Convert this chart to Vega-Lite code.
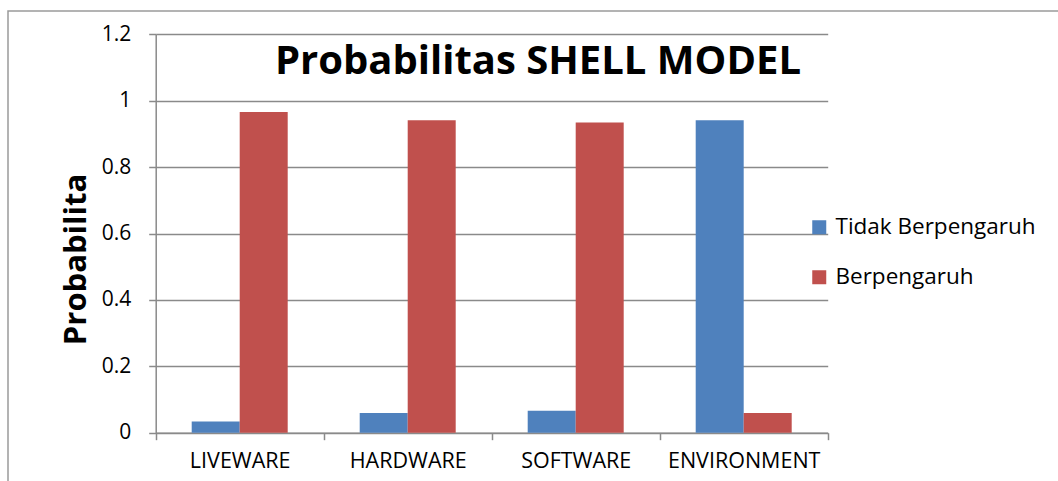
{
  "$schema": "https://vega.github.io/schema/vega-lite/v6.json",
  "autosize": {"type": "none"},
  "padding": {"left": 8, "top": 11, "right": 0, "bottom": 0},
  "width": 1050,
  "height": 470,
  "background": "white",
  "title": {
    "text": "Probabilitas SHELL MODEL",
    "orient": "top",
    "anchor": "middle",
    "baseline": "alphabetic",
    "offset": -64,
    "dx": 5,
    "dy": 39,
    "font": "Open Sans",
    "fontSize": 40,
    "fontWeight": "bold",
    "color": "black"
  },
  "config": {
    "view": {"stroke": "#9a9a9a", "strokeWidth": 1.5, "strokeDash": [1050, 1520, 470]},
    "font": "Open Sans"
  },
  "data": {
    "values": [
      {"kategori": "LIVEWARE", "status": "Tidak Berpengaruh", "p": 0.034},
      {"kategori": "LIVEWARE", "status": "Berpengaruh", "p": 0.966},
      {"kategori": "HARDWARE", "status": "Tidak Berpengaruh", "p": 0.059},
      {"kategori": "HARDWARE", "status": "Berpengaruh", "p": 0.941},
      {"kategori": "SOFTWARE", "status": "Tidak Berpengaruh", "p": 0.066},
      {"kategori": "SOFTWARE", "status": "Berpengaruh", "p": 0.934},
      {"kategori": "ENVIRONMENT", "status": "Tidak Berpengaruh", "p": 0.941},
      {"kategori": "ENVIRONMENT", "status": "Berpengaruh", "p": 0.059}
    ]
  },
  "mark": {"type": "bar"},
  "encoding": {
    "x": {
      "field": "kategori",
      "type": "nominal",
      "sort": ["LIVEWARE", "HARDWARE", "SOFTWARE", "ENVIRONMENT"],
      "scale": {"range": [147.7, 819.7], "paddingInner": 0, "paddingOuter": 0},
      "axis": {
        "title": null,
        "orient": "bottom",
        "offset": -48.3,
        "labelAngle": 0,
        "labelFont": "Open Sans",
        "labelFontSize": 21.5,
        "labelColor": "black",
        "labelPadding": 11,
        "tickBand": "extent",
        "tickSize": 7,
        "tickColor": "#8a8a8a",
        "tickWidth": 1.5,
        "domainColor": "#8a8a8a",
        "domainWidth": 1.5,
        "grid": false
      }
    },
    "xOffset": {
      "field": "status",
      "type": "nominal",
      "sort": ["Tidak Berpengaruh", "Berpengaruh"],
      "scale": {"paddingInner": 0, "paddingOuter": 0.75}
    },
    "y": {
      "field": "p",
      "type": "quantitative",
      "scale": {"domain": [0, 1.2], "range": [421.7, 23.3], "nice": false},
      "axis": {
        "title": "Probabilita",
        "titleFont": "Open Sans",
        "titleFontSize": 31,
        "titleFontWeight": "bold",
        "titleColor": "black",
        "titleAngle": -90,
        "titleAlign": "center",
        "titleBaseline": "alphabetic",
        "titleX": -70.5,
        "titleY": 248,
        "offset": -147.7,
        "values": [0, 0.2, 0.4, 0.6, 0.8, 1, 1.2],
        "format": "~g",
        "labelFont": "Open Sans",
        "labelFontSize": 21,
        "labelColor": "black",
        "labelPadding": 18,
        "tickSize": 7,
        "tickColor": "#8a8a8a",
        "tickWidth": 1.5,
        "domainColor": "#8a8a8a",
        "domainWidth": 1.5,
        "grid": true,
        "gridColor": "#8a8a8a",
        "gridWidth": 1.5
      }
    },
    "color": {
      "field": "status",
      "type": "nominal",
      "sort": ["Tidak Berpengaruh", "Berpengaruh"],
      "scale": {"domain": ["Tidak Berpengaruh", "Berpengaruh"], "range": ["#4F81BD", "#C0504D"]},
      "legend": {
        "title": null,
        "orient": "none",
        "legendX": 800,
        "legendY": 205,
        "direction": "vertical",
        "padding": 0,
        "symbolType": "square",
        "symbolSize": 196,
        "symbolStrokeWidth": 0,
        "symbolOpacity": 1,
        "labelFont": "Open Sans",
        "labelFontSize": 22.5,
        "labelColor": "black",
        "labelOffset": 5,
        "labelLimit": 400,
        "rowPadding": 27
      }
    }
  }
}
